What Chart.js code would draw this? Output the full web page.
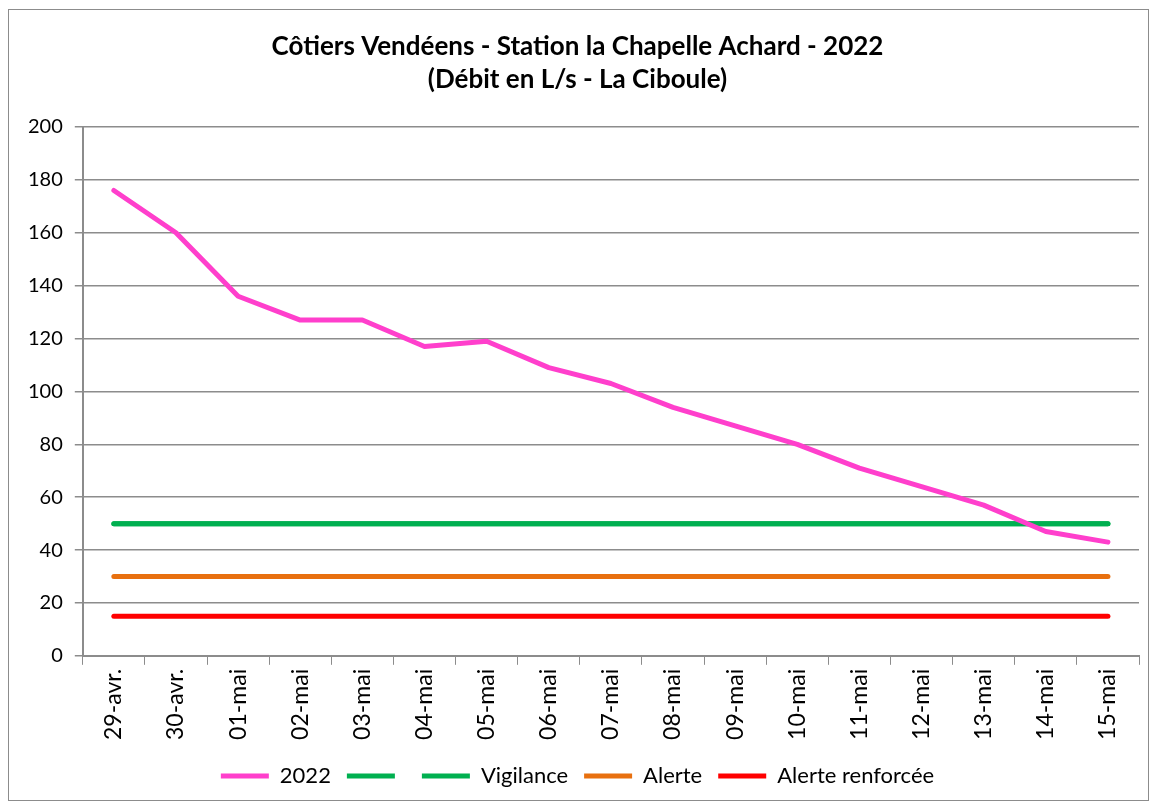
<!DOCTYPE html>
<html>
<head>
<meta charset="utf-8">
<script src="https://cdn.jsdelivr.net/npm/chart.js@4"></script>
<style>
  body { margin: 0; background: #fff; }
  #frame {
    position: absolute;
    left: 8px;
    top: 9px;
    width: 1139px;
    height: 790px;
    border: 1px solid #8c8c8c;
  }
</style>
</head>
<body>
<div id="frame"><canvas id="myChart" width="1139" height="790"></canvas></div>
<script>
var labels = ["29-avr.", "30-avr.", "01-mai", "02-mai", "03-mai", "04-mai", "05-mai", "06-mai",
  "07-mai", "08-mai", "09-mai", "10-mai", "11-mai", "12-mai", "13-mai", "14-mai", "15-mai"];
var debit2022 = [176, 160, 136, 127, 127, 117, 119, 109, 103, 94, 87, 80, 71, 64, 57, 47, 43];
var seuilSansNom = [50, 50, 50, 50, 50, 50, 50, 50, 50, 50, 50, 50, 50, 50, 50, 50, 50];
var vigilance = [50, 50, 50, 50, 50, 50, 50, 50, 50, 50, 50, 50, 50, 50, 50, 50, 50];
var alerte = [30, 30, 30, 30, 30, 30, 30, 30, 30, 30, 30, 30, 30, 30, 30, 30, 30];
var alerteRenforcee = [15, 15, 15, 15, 15, 15, 15, 15, 15, 15, 15, 15, 15, 15, 15, 15, 15];
var yTicks = [0, 20, 40, 60, 80, 100, 120, 140, 160, 180, 200];

var font = "Lato, 'Noto Sans', sans-serif";
var gridColor = "#8c8c8c";

function serie(label, data, color) {
  return {
    label: label,
    data: data,
    borderColor: color,
    backgroundColor: color,
    borderWidth: 5,
    borderCapStyle: "round",
    borderJoinStyle: "round",
    pointRadius: 0,
    tension: 0,
    fill: false,
  };
}

var ctx = document.getElementById("myChart");
var myChart = new Chart(ctx, {
  type: "line",
  data: {
    labels: labels,
    datasets: [
      serie("2022", debit2022, "#ff3fcc"),
      serie("", seuilSansNom, "#00b050"),
      serie("Vigilance", vigilance, "#00b050"),
      serie("Alerte", alerte, "#e8700f"),
      serie("Alerte renforcée", alerteRenforcee, "#ff0000"),
    ],
  },
  options: {
    responsive: false,
    animation: false,
    layout: { padding: { left: 7, right: 9, top: 10, bottom: 3 } },
    plugins: {
      title: {
        display: true,
        text: ["Côtiers Vendéens - Station la Chapelle Achard - 2022", "(Débit en L/s - La Ciboule)"],
        color: "#000",
        font: { family: font, size: 26, weight: "bold", lineHeight: 1.27 },
        padding: { top: 10, bottom: 31 },
      },
      legend: {
        position: "bottom",
        labels: {
          usePointStyle: true,
          pointStyle: "line",
          pointStyleWidth: 48,
          color: "#000",
          font: { family: font, size: 22 },
          padding: 16,
        },
      },
      tooltip: { enabled: false },
    },
    scales: {
      x: {
        offset: true,
        afterFit: function (scale) {
          scale.height += 5;
        },
        grid: {
          offset: true,
          drawOnChartArea: false,
          color: gridColor,
          tickLength: 9,
        },
        border: { color: gridColor, width: 2 },
        ticks: {
          color: "#000",
          minRotation: 90,
          maxRotation: 90,
          font: { family: font, size: 23 },
          padding: 4,
        },
      },
      y: {
        min: 0,
        max: 200,
        afterBuildTicks: function (axis) {
          axis.ticks = yTicks.map(function (v) { return { value: v }; });
        },
        grid: { color: gridColor, lineWidth: 1.5, tickLength: 8 },
        border: { color: gridColor, width: 2 },
        ticks: {
          color: "#000",
          font: { family: font, size: 20 },
          padding: 12,
        },
      },
    },
  },
});
</script>
</body>
</html>
